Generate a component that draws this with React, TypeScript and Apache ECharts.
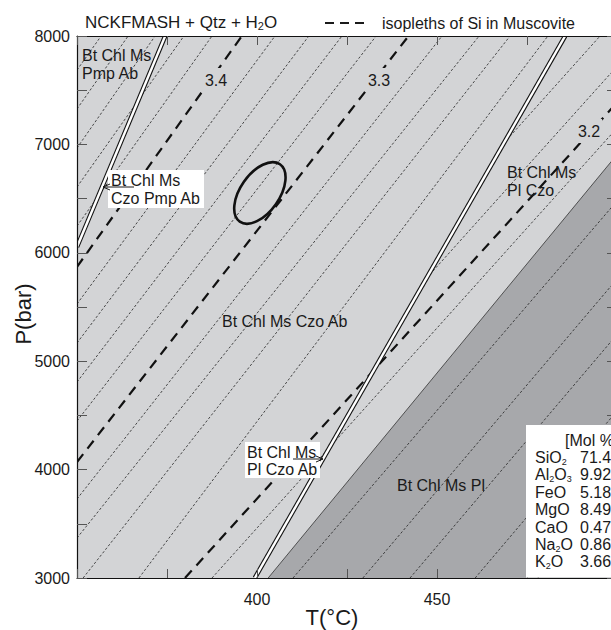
import React, { useEffect, useRef } from 'react';
import * as echarts from 'echarts';

const FONT = '"Liberation Sans", Arial, Helvetica, sans-serif';
const LIGHT = '#d3d4d6';
const DARK = '#a7a8ab';
const INK = '#1a1a1a';

// axes
const T_MIN = 350;
const T_MAX = 500;
const P_MIN = 3000;
const P_MAX = 8000;
const xTickLabels = [400, 450];
const yTickLabels = [3000, 4000, 5000, 6000, 7000, 8000];

// thin dotted isopleths [T1, P1, T2, P2]
const thinIsopleths = [
  [350, 7686, 356.7, 8000],
  [350, 7327, 364.2, 8000],
  [350, 6967, 371.7, 8000],
  [350, 6607, 379.7, 8000],
  [350, 6247, 387.5, 8000],
  [350, 5528, 405.0, 8000],
  [350, 5168, 414.4, 8000],
  [350, 4808, 423.6, 8000],
  [350, 4448, 433.1, 8000],
  [350, 3729, 451.4, 8000],
  [350, 3369, 461.7, 8000],
  [351.7, 3000, 470.3, 8000],
  [367.2, 3000, 480.8, 8000],
  [468.6, 7013, 495.3, 8000],
  [447.2, 5770, 500, 7720],
  [387.5, 3000, 500, 7151],
  [410.0, 3000, 500, 6478],
  [429.4, 3000, 500, 5758],
  [442.5, 3000, 500, 5246],
  [460.6, 3000, 500, 4541],
  [478.0, 3000, 500, 3850],
];

// bold dashed Si-in-muscovite isopleths
const boldIsoplethValues = ['3.4', '3.3', '3.2'];
const boldIsopleths = [
  [350, 5870, 395.8, 8000],
  [350, 4070, 442.1, 8000],
  [380, 3000, 500, 7386],
];

// reaction boundaries (double lines)
const doubleBoundaries = [
  [350, 6054, 374.5, 8000],
  [399.4, 3000, 485.6, 8000],
];

// Bt Chl Ms Pl field
const darkField = [
  [403.1, 3000],
  [500, 6906],
  [500, 3000],
];
const darkBoundary = [[403.1, 3000, 500, 6906]];

// PT estimate (ellipse centre)
const ptEstimate = [[400.8, 6552]];

// bulk composition
const oxideNames = ['SiO_2', 'Al_2O_3', 'FeO', 'MgO', 'CaO', 'Na_2O', 'K_2O'];
const oxideValues = ['71.41', '9.92', '5.18', '8.49', '0.47', '0.86', '3.66'];

function toRich(s: string): string {
  return s
    .split(/(_\d)/)
    .filter((p) => p.length > 0)
    .map((p) => (p.startsWith('_') ? `{s|${p.slice(1)}}` : `{n|${p}}`))
    .join('');
}

function richStyles(size: number, subSize: number, pad: number) {
  return {
    n: { fontSize: size, fontFamily: FONT, fill: INK, lineHeight: size + 2 },
    s: { fontSize: subSize, fontFamily: FONT, fill: INK, lineHeight: size + 2, padding: [pad, 0, 0, 0] },
  };
}

function txt(x: number, y: number, text: string, o: any = {}) {
  const size = o.size || 16;
  const va = o.va || 'middle';
  const al = o.align || 'left';
  const style: any = {
    text,
    fill: INK,
    fontSize: size,
    fontFamily: FONT,
    align: al,
    textAlign: al,
    verticalAlign: va,
    textVerticalAlign: va,
    lineHeight: o.lh || size + 2,
  };
  if (o.rich) style.rich = o.rich;
  if (o.bg) {
    style.backgroundColor = o.bg;
    style.padding = o.pad || [2, 3];
  }
  return { type: 'text', x, y, z: 40, rotation: o.rotation || 0, silent: true, style };
}

function lineSeg(api: any, v: number[], style: any) {
  const a = api.coord([v[0], v[1]]);
  const b = api.coord([v[2], v[3]]);
  return { type: 'line', shape: { x1: a[0], y1: a[1], x2: b[0], y2: b[1] }, style };
}

function buildOption() {
  const axisCommonX = {
    type: 'value',
    min: T_MIN,
    max: T_MAX,
    interval: 25,
    z: 10,
    axisLine: { show: true, onZero: false, lineStyle: { color: '#111', width: 1.2 } },
    axisTick: { show: true, inside: true, length: 9, lineStyle: { color: '#555', width: 1 } },
    splitLine: { show: false },
  };
  const axisCommonY = {
    type: 'value',
    min: P_MIN,
    max: P_MAX,
    interval: 500,
    z: 10,
    axisLine: { show: true, onZero: false, lineStyle: { color: '#111', width: 1.2 } },
    axisTick: { show: true, inside: true, length: 10, lineStyle: { color: '#555', width: 1 } },
    splitLine: { show: false },
  };

  const graphic: any[] = [];
  // title & legend
  graphic.push(txt(85, 22, toRich('NCKFMASH + Qtz + H_2O'), { size: 17, rich: richStyles(17, 11, 8) }));
  graphic.push({
    type: 'line', z: 40, silent: true,
    shape: { x1: 325, y1: 23, x2: 365, y2: 23 },
    style: { stroke: INK, lineWidth: 2, lineDash: [9, 6] },
  });
  graphic.push(txt(382, 23, 'isopleths of Si in Muscovite', { size: 16 }));

  // axis names
  graphic.push(txt(23, 314, 'P(bar)', { size: 22, align: 'center', rotation: Math.PI / 2 }));
  graphic.push(txt(332, 617, 'T(°C)', { size: 22, align: 'center' }));

  // field labels
  graphic.push(txt(82, 46, 'Bt Chl Ms\nPmp Ab', { va: 'top', lh: 18 }));
  graphic.push(txt(222, 321, 'Bt Chl Ms Czo Ab'));
  graphic.push(txt(507, 163, 'Bt Chl Ms\nPl Czo', { va: 'top', lh: 18 }));
  graphic.push(txt(485, 485, 'Bt Chl Ms Pl', { align: 'right' }));

  // isopleth value labels (line interrupted behind them)
  graphic.push(txt(216, 80, boldIsoplethValues[0], { align: 'center', bg: LIGHT, pad: [3, 2] }));
  graphic.push(txt(379, 80, boldIsoplethValues[1], { align: 'center', bg: LIGHT, pad: [3, 2] }));
  graphic.push(txt(589, 131, boldIsoplethValues[2], { align: 'center', bg: LIGHT, pad: [3, 2] }));

  // boxed labels with arrows
  graphic.push({ type: 'rect', z: 35, silent: true, shape: { x: 108, y: 170, width: 96, height: 38 }, style: { fill: '#fff' } });
  graphic.push(txt(111, 172, 'Bt Chl Ms\nCzo Pmp Ab', { va: 'top', lh: 17.5 }));
  graphic.push({ type: 'line', z: 41, silent: true, shape: { x1: 134, y1: 187, x2: 103, y2: 187 }, style: { stroke: INK, lineWidth: 1 } });
  graphic.push({ type: 'polyline', z: 41, silent: true, shape: { points: [[110, 184], [103, 187], [110, 190]] }, style: { stroke: INK, lineWidth: 1, fill: 'none' } });

  graphic.push({ type: 'rect', z: 35, silent: true, shape: { x: 245, y: 442, width: 75, height: 36 }, style: { fill: '#fff' } });
  graphic.push(txt(247, 443.5, 'Bt Chl Ms\nPl Czo Ab', { va: 'top', lh: 17.5 }));
  graphic.push({ type: 'line', z: 41, silent: true, shape: { x1: 293, y1: 459, x2: 323, y2: 459 }, style: { stroke: INK, lineWidth: 1 } });
  graphic.push({ type: 'polyline', z: 41, silent: true, shape: { points: [[316, 456], [323, 459], [316, 462]] }, style: { stroke: INK, lineWidth: 1, fill: 'none' } });

  // composition box
  graphic.push({ type: 'rect', z: 35, silent: true, shape: { x: 526, y: 425, width: 120, height: 152.5 }, style: { fill: '#fff' } });
  graphic.push(txt(565, 440, '[Mol %]'));
  const rowY0 = 457.5;
  const rowStep = 17.4;
  oxideNames.forEach((name, i) => {
    const y = rowY0 + i * rowStep;
    graphic.push(txt(535, y, toRich(name), { rich: richStyles(16, 9, 8) }));
    graphic.push(txt(580, y, oxideValues[i]));
  });

  return {
    animation: false,
    grid: { left: 77, top: 36, width: 540, height: 542, show: true, backgroundColor: LIGHT, borderWidth: 0 },
    xAxis: [
      {
        ...axisCommonX,
        position: 'bottom',
        axisLabel: {
          show: true,
          formatter: (v: number) => (xTickLabels.includes(v) ? String(v) : ''),
          fontSize: 16,
          fontFamily: FONT,
          color: INK,
          margin: 13,
        },
      },
      { ...axisCommonX, position: 'top', axisLabel: { show: false } },
    ],
    yAxis: [
      {
        ...axisCommonY,
        position: 'left',
        axisLabel: {
          show: true,
          showMinLabel: true,
          showMaxLabel: true,
          formatter: (v: number) => (yTickLabels.includes(v) ? String(v) : ''),
          fontSize: 16,
          fontFamily: FONT,
          color: INK,
          margin: 7,
        },
      },
      { ...axisCommonY, position: 'right', axisLabel: { show: false } },
    ],
    series: [
      {
        type: 'custom', name: 'darkField', z: 1, silent: true, clip: true,
        data: [[darkField[0][0], darkField[0][1]]],
        renderItem: (_p: any, api: any) => ({
          type: 'polygon',
          shape: { points: darkField.map((pt) => api.coord(pt)) },
          style: { fill: DARK },
        }),
      },
      {
        type: 'custom', name: 'darkBoundary', z: 2, silent: true, clip: true,
        data: darkBoundary,
        renderItem: (_p: any, api: any) =>
          lineSeg(api, [api.value(0), api.value(1), api.value(2), api.value(3)], { stroke: '#333', lineWidth: 0.8 }),
      },
      {
        type: 'custom', name: 'thin', z: 3, silent: true, clip: true,
        data: thinIsopleths,
        renderItem: (_p: any, api: any) =>
          lineSeg(api, [api.value(0), api.value(1), api.value(2), api.value(3)], {
            stroke: '#222', lineWidth: 0.8, lineDash: [2.5, 2],
          }),
      },
      {
        type: 'custom', name: 'bold', z: 4, silent: true, clip: true,
        data: boldIsopleths,
        renderItem: (_p: any, api: any) =>
          lineSeg(api, [api.value(0), api.value(1), api.value(2), api.value(3)], {
            stroke: '#111', lineWidth: 2.2, lineDash: [10, 7],
          }),
      },
      {
        type: 'custom', name: 'double', z: 5, silent: true, clip: true,
        data: doubleBoundaries,
        renderItem: (_p: any, api: any) => {
          const v = [api.value(0), api.value(1), api.value(2), api.value(3)];
          return {
            type: 'group',
            children: [
              lineSeg(api, v, { stroke: '#111', lineWidth: 4.6 }),
              lineSeg(api, v, { stroke: '#fff', lineWidth: 2.4 }),
            ],
          };
        },
      },
      {
        type: 'custom', name: 'ellipse', z: 6, silent: true, clip: true,
        data: ptEstimate,
        renderItem: (_p: any, api: any) => {
          const c = api.coord([api.value(0), api.value(1)]);
          return {
            type: 'ellipse',
            x: c[0],
            y: c[1],
            rotation: (55 * Math.PI) / 180,
            shape: { cx: 0, cy: 0, rx: 35, ry: 19.5 },
            style: { fill: 'none', stroke: '#111', lineWidth: 2.6 },
          };
        },
      },
    ],
    graphic,
  };
}

export default function App() {
  const ref = useRef<HTMLDivElement>(null);
  useEffect(() => {
    if (!ref.current) return;
    const chart = echarts.init(ref.current, null, { renderer: 'svg' });
    chart.setOption(buildOption() as any);
    return () => chart.dispose();
  }, []);
  return (
    <div style={{ position: 'fixed', left: 0, top: 0, width: 611, height: 630, overflow: 'hidden', background: '#fff' }}>
      <div ref={ref} style={{ width: 640, height: 630 }} />
    </div>
  );
}
